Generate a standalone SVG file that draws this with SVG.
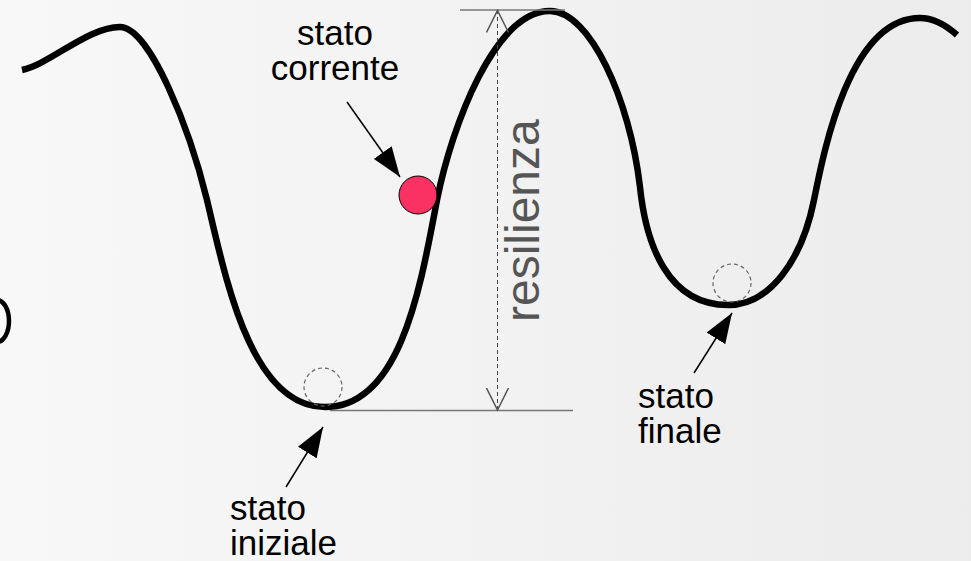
<svg xmlns="http://www.w3.org/2000/svg" width="971" height="561" viewBox="0 0 971 561">
<defs>
<linearGradient id="bg" x1="0" y1="0" x2="1" y2="0">
<stop offset="0" stop-color="#f8f8f8"/>
<stop offset="1" stop-color="#ececec"/>
</linearGradient>
<marker id="tri" viewBox="0 0 30 22" refX="30" refY="11" markerWidth="30" markerHeight="22" markerUnits="userSpaceOnUse" orient="auto">
<path d="M0,0 L30,11 L0,22 Z" fill="#000"/>
</marker>
<marker id="open" viewBox="0 0 24 24" refX="22" refY="12" markerWidth="24" markerHeight="24" markerUnits="userSpaceOnUse" orient="auto">
<path d="M0,1 L22,12 L0,23" fill="none" stroke="#555" stroke-width="1.5"/>
</marker>
</defs>
<style>
.lbl{font-family:"Liberation Sans",Arial,sans-serif;font-size:35px;fill:#000}
.curve{fill:none;stroke:#000;stroke-width:6.5;stroke-linecap:butt}
.ghost{fill:none;stroke:#666;stroke-width:1.2;stroke-dasharray:4 3}
.lead{stroke:#000;stroke-width:1.5;fill:none}
</style>
<rect width="971" height="561" fill="url(#bg)"/>
<g id="landscape">
<path class="curve" d="M22,70 C50,64 88,27 120,27 C150,27 190,130 207,200 C225,275 250,407 325,407 C400,407 420,290 437,200 C452,125 495,11 550,11 C590,11 630,100 640,187 C646,245 668,305 728,305 C770,305 802,260 814,200 C824,150 850,18 920,18 C935,18 948,27 957,35"/>
<ellipse cx="-3" cy="321" rx="12" ry="21" fill="none" stroke="#000" stroke-width="4.5"/>
</g>
<g id="measure">
<line x1="460" y1="10" x2="565" y2="10" stroke="#777" stroke-width="1.5"/>
<line x1="330" y1="410.5" x2="573" y2="410.5" stroke="#777" stroke-width="1.5"/>
<line x1="497.5" y1="210" x2="497.5" y2="10.5" stroke="#444" stroke-width="1" stroke-dasharray="4 3" marker-end="url(#open)"/>
<line x1="497.5" y1="210" x2="497.5" y2="410" stroke="#444" stroke-width="1" stroke-dasharray="4 3" marker-end="url(#open)"/>
<text transform="translate(539,322) rotate(-90)" font-family="'Liberation Sans',Arial,sans-serif" font-size="48" fill="#555">resilienza</text>
</g>
<g id="stato-corrente">
<circle cx="418" cy="195" r="19" fill="#f93263" stroke="#000" stroke-width="1"/>
<text class="lbl" text-anchor="middle"><tspan x="335" y="45">stato</tspan><tspan x="335" y="80">corrente</tspan></text>
</g>
<g id="stato-iniziale">
<circle cx="323" cy="387" r="19" class="ghost"/>
<text class="lbl"><tspan x="230" y="520">stato</tspan><tspan x="230" y="555">iniziale</tspan></text>
</g>
<g id="stato-finale">
<circle cx="732" cy="283" r="19" class="ghost"/>
<text class="lbl"><tspan x="638" y="408">stato</tspan><tspan x="638" y="443">finale</tspan></text>
</g>
<g id="connectors">
<line class="lead" x1="347" y1="102" x2="400" y2="177" marker-end="url(#tri)"/>
<line class="lead" x1="694" y1="373" x2="732" y2="313" marker-end="url(#tri)"/>
<line class="lead" x1="286" y1="487" x2="323" y2="427" marker-end="url(#tri)"/>
</g>
</svg>
